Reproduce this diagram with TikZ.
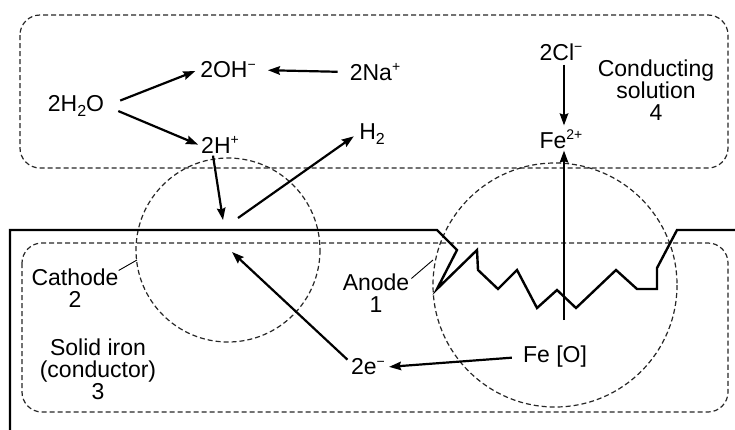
\documentclass[tikz,border=0pt]{standalone}
\usepackage{fontspec}
\setmainfont{Liberation Sans}
\usetikzlibrary{arrows.meta}
\newcommand{\supx}[1]{\raisebox{0.72ex}{\fontsize{14}{14}\selectfont #1}}
\newcommand{\subx}[1]{\raisebox{-0.4ex}{\fontsize{16}{16}\selectfont #1}}
\begin{document}
\begin{tikzpicture}[x=1pt,y=-1pt,
  lbl/.style={inner sep=2pt, font=\fontsize{23}{22}\selectfont, align=center},
  arr/.style={line width=2.2pt, -{Stealth[length=12pt,width=8.5pt,inset=1.5pt]}},
  dsh/.style={line width=1.2pt, dash pattern=on 5pt off 3pt, black!85},
  solid line/.style={line width=2.4pt, line join=miter}]
\useasboundingbox (0,0) rectangle (735,429);
% dashed regions
\draw[dsh, rounded corners=20pt] (20,15) rectangle (728,168);
\draw[dsh, rounded corners=20pt] (22,243) rectangle (728,412);
\draw[dsh] (228,250) circle[radius=92];
\draw[dsh] (555,285) circle[radius=122];
% iron surface with corroded pit
\draw[solid line] (10,432) -- (10,230) -- (437,230) -- (457,250) -- (437,289)
  -- (477,250) -- (478,270) -- (498,289) -- (517,270) -- (537,308) -- (557,290)
  -- (576,308) -- (616,270) -- (637,289) -- (657,289) -- (657,268) -- (677,230) -- (738,230);
% labels
\node[lbl] (h2o) at (76,106) {2H\subx{2}O};
\node[lbl] (oh) at (228,70) {2OH\supx{−}};
\node[lbl] (na) at (375,72) {2Na\supx{+}};
\node[lbl] (hp) at (220,145) {2H\supx{+}};
\node[lbl] (h2) at (372,134) {H\subx{2}};
\node[lbl] (cl) at (561,52) {2Cl\supx{−}};
\node[lbl] (fe2) at (561,139) {Fe\supx{2+}};
\node[lbl] (cond) at (656,90) {Conducting\\solution\\4};
\node[lbl] (cat) at (75,288) {Cathode\\2};
\node[lbl] (an) at (376,293) {Anode\\1};
\node[lbl] (iron) at (98,369) {Solid iron\\(conductor)\\3};
\node[lbl] (e) at (368,367) {2e\supx{−}};
\node[lbl] (feo) at (555,357) {Fe [O]};
% coordinates on the surface / circles
\coordinate (s1) at (223,220);
\coordinate (s2) at (238,218);
\coordinate (s3) at (232,252);
\coordinate (fb) at (564,320);
\coordinate (cc) at (137,260);
\coordinate (ac) at (433,260);
% arrows
\draw[arr, shorten <=15pt, shorten >=3pt] (h2o.east) -- (oh.west);
\draw[arr, shorten <=13pt, shorten >=1pt] (h2o.east) -- (hp.west);
\draw[arr, shorten <=10pt, shorten >=10pt] (na.west) -- (oh.east);
\draw[arr] ([xshift=-7pt]hp.south) -- (s1);
\draw[arr, shorten >=4pt] (s2) -- (h2.west);
\draw[arr, shorten <=2pt] ([yshift=6pt]e.west) -- (s3);
\draw[arr, shorten <=9pt, shorten >=2pt] (feo.west) -- (e.east);
\draw[arr, shorten <=2pt, shorten >=2pt] ([xshift=3pt]cl.south) -- ([xshift=3pt]fe2.north);
\draw[arr] (fb) -- (fb |- fe2.south);
% leader lines
\draw[line width=0.9pt] ([xshift=-2pt,yshift=-4pt]cat.north east) -- (cc);
\draw[line width=0.9pt] ([yshift=-7pt]an.north east) -- (ac);
\end{tikzpicture}
\end{document}
